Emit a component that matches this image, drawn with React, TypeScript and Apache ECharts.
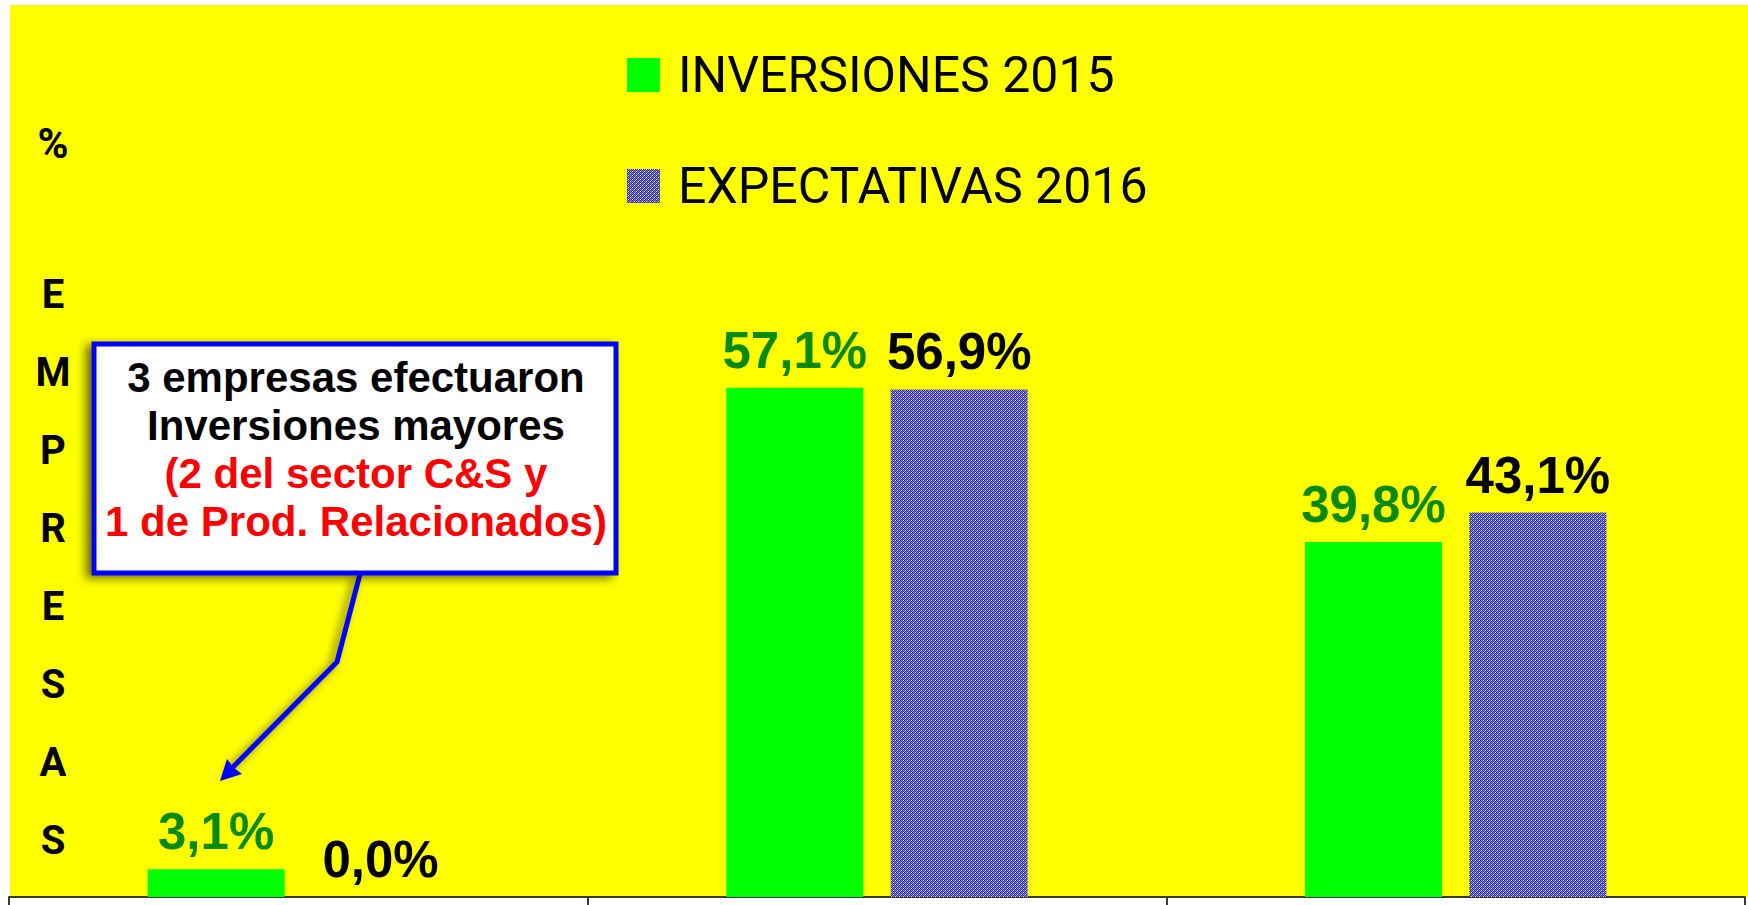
import React, { useEffect, useRef } from "react";
import * as echarts from "echarts";

const categories = ["Grupo 1", "Grupo 2", "Grupo 3"];
const inversiones2015 = [3.1, 57.1, 39.8];
const expectativas2016 = [0.0, 56.9, 43.1];
const seriesNames = ["INVERSIONES 2015", "EXPECTATIVAS 2016"];
const axisLetters = ["E", "M", "P", "R", "E", "S", "A", "S"];
const calloutBlack = ["3 empresas efectuaron", "Inversiones mayores"];
const calloutRed = ["(2 del sector C&S y", "1 de Prod. Relacionados)"];

function makePattern(): string {
  const c = document.createElement("canvas");
  c.width = 4;
  c.height = 4;
  const ctx = c.getContext("2d");
  if (!ctx) return "";
  const cols = [
    ["#2c2c9c", "#8484d6", "#3a3aa8", "#e8e8ff"],
    ["#6a6ac8", "#30309e", "#9090dc", "#2c2c9c"],
    ["#3a3aa8", "#e8e8ff", "#2c2c9c", "#8484d6"],
    ["#9090dc", "#2c2c9c", "#6a6ac8", "#30309e"],
  ];
  for (let y = 0; y < 4; y++)
    for (let x = 0; x < 4; x++) {
      ctx.fillStyle = cols[y][x];
      ctx.fillRect(x, y, 1, 1);
    }
  return c.toDataURL();
}

const fmt = (p: any) => Number(p.value).toFixed(1).replace(".", ",") + "%";

export default function App() {
  const ref = useRef<HTMLDivElement>(null);
  useEffect(() => {
    if (!ref.current) return;
    const chart = echarts.init(ref.current, null, { renderer: "svg" });
    const pat = makePattern();
    const purple: any = pat
      ? { image: pat, repeat: "repeat", imageWidth: 4, imageHeight: 4 }
      : "#5c5cc0";
    const labelFont = "'Liberation Sans', Arial, sans-serif";
    const option: any = {
      animation: false,
      backgroundColor: "#ffffff",
      grid: { left: 9, right: 3, top: 5, bottom: 8, containLabel: false },
      legend: {
        orient: "vertical",
        left: 627,
        top: 43,
        padding: 0,
        itemWidth: 33,
        itemHeight: 34,
        itemGap: 47,
        icon: "rect",
        selectedMode: false,
        textStyle: {
          fontFamily: "Roboto, sans-serif",
          fontSize: 50,
          color: "#000000",
          lineHeight: 56,
          padding: [0, 0, 8, 13],
        },
        data: seriesNames,
      },
      xAxis: {
        type: "category",
        data: categories,
        axisLine: { show: true, lineStyle: { color: "#3a3a3a", width: 2 } },
        axisTick: { show: true, length: 8, lineStyle: { color: "#3a3a3a", width: 2 } },
        axisLabel: { show: false },
        splitLine: { show: false },
      },
      yAxis: {
        type: "value",
        min: 0,
        max: 100,
        show: false,
        splitLine: { show: false },
      },
      graphic: [
        {
          type: "rect",
          z: -10,
          silent: true,
          shape: { x: 10, y: 5, width: 1738, height: 892 },
          style: { fill: "#ffff00" },
        },
        {
          type: "text",
          z: 50,
          style: {
            text: "%",
            x: 53,
            y: 143,
            align: "center",
            verticalAlign: "middle",
            fontFamily: "Roboto, sans-serif",
            fontWeight: "bold",
            fontSize: 42,
            fill: "#000000",
          },
        },
        {
          type: "text",
          z: 50,
          style: {
            text: axisLetters.join("\n"),
            x: 53,
            y: 255,
            align: "center",
            verticalAlign: "top",
            lineHeight: 78,
            fontFamily: "Roboto, sans-serif",
            fontWeight: "bold",
            fontSize: 40,
            fill: "#000000",
          },
        },
        {
          type: "polyline",
          z: 60,
          shape: { points: [[360, 574], [337, 662], [232, 768]] },
          style: {
            stroke: "#0000ff",
            lineWidth: 5,
            fill: "none",
            shadowBlur: 8,
            shadowOffsetX: -5,
            shadowOffsetY: 4,
            shadowColor: "rgba(0,0,0,0.55)",
          },
        },
        {
          type: "polygon",
          z: 60,
          shape: { points: [[220, 781], [242, 774], [234, 768], [227, 759]] },
          style: { fill: "#0000ff" },
        },
        {
          type: "rect",
          z: 70,
          shape: { x: 94, y: 344, width: 522, height: 229 },
          style: {
            fill: "#ffffff",
            stroke: "#0000ff",
            lineWidth: 5,
            shadowBlur: 10,
            shadowOffsetX: -6,
            shadowOffsetY: 3,
            shadowColor: "rgba(0,0,0,0.55)",
          },
        },
        {
          type: "text",
          z: 80,
          style: {
            text:
              calloutBlack.map((s) => "{b|" + s + "}").join("\n") +
              "\n" +
              calloutRed.map((s) => "{r|" + s + "}").join("\n"),
            x: 356,
            y: 353,
            align: "center",
            verticalAlign: "top",
            rich: {
              b: {
                fontFamily: labelFont,
                fontWeight: "bold",
                fontSize: 42,
                lineHeight: 48,
                fill: "#000000",
                align: "center",
              },
              r: {
                fontFamily: labelFont,
                fontWeight: "bold",
                fontSize: 42,
                lineHeight: 48,
                fill: "#ff0000",
                align: "center",
              },
            },
          },
        },
      ],
      series: [
        {
          name: seriesNames[0],
          type: "bar",
          data: inversiones2015,
          barWidth: 137,
          barGap: "20%",
          itemStyle: { color: "#00ff00" },
          label: {
            show: true,
            position: "top",
            distance: 12,
            formatter: fmt,
            fontFamily: labelFont,
            fontWeight: "bold",
            fontSize: 51,
            color: "#0a8a0a",
          },
        },
        {
          name: seriesNames[1],
          type: "bar",
          data: expectativas2016,
          barWidth: 137,
          itemStyle: { color: purple },
          label: {
            show: true,
            position: "top",
            distance: 12,
            formatter: fmt,
            fontFamily: labelFont,
            fontWeight: "bold",
            fontSize: 51,
            color: "#000000",
          },
        },
      ],
    };
    chart.setOption(option);
    return () => chart.dispose();
  }, []);
  return (
    <div
      ref={ref}
      style={{ position: "absolute", left: 0, top: 0, width: 1748, height: 905, background: "#fff" }}
    />
  );
}
